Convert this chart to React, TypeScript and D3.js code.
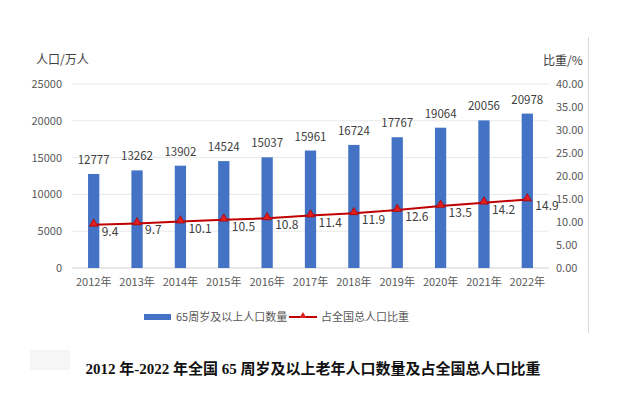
import * as d3 from 'd3';

const years = ['2012', '2013', '2014', '2015', '2016', '2017', '2018', '2019', '2020', '2021', '2022'];
const population = [12777, 13262, 13902, 14524, 15037, 15961, 16724, 17767, 19064, 20056, 20978];
const ratio = [9.4, 9.7, 10.1, 10.5, 10.8, 11.4, 11.9, 12.6, 13.5, 14.2, 14.9];
const leftTicks = [0, 5000, 10000, 15000, 20000, 25000];
const rightTicks = [0, 5, 10, 15, 20, 25, 30, 35, 40];

const width = 621;
const height = 398;
const plot = { left: 72, right: 549, top: 84, bottom: 268 };
const font = '"Noto Sans CJK SC", "Noto Sans", sans-serif';

export default function App() {
  const x = d3.scaleBand(years, [plot.left, plot.right]).paddingInner(0.74).paddingOuter(0.37);
  const yL = d3.scaleLinear([0, 25000], [plot.bottom, plot.top]);
  const yR = d3.scaleLinear([0, 40], [plot.bottom, plot.top]);
  const cx = (i: number) => (x(years[i]) ?? 0) + x.bandwidth() / 2;
  const line = d3.line<number>((_, i) => cx(i), (d) => yR(d));
  const tri = d3.symbol(d3.symbolTriangle, 30)() ?? '';

  return (
    <svg
      width={width}
      height={height}
      style={{ position: 'absolute', left: 0, top: 0, background: '#fff' }}
      fontFamily={font}
    >
      <rect x={30} y={350} width={40} height={20} fill="#f6f6f6" />
      <line x1={588.5} x2={588.5} y1={37} y2={333} stroke="#d9d9d9" />

      <text x={36} y={64} fontSize={12} fill="#404040">人口/万人</text>
      <text x={543} y={65} fontSize={12} fill="#404040">比重/%</text>

      {leftTicks.map((t) => (
        <g key={t}>
          <line x1={plot.left} x2={plot.right} y1={yL(t)} y2={yL(t)} stroke={t === 0 ? '#d0d0d0' : '#e8e8e8'} />
          <text x={62} y={yL(t) + 4} fontSize={11} fill="#595959" textAnchor="end">{t}</text>
        </g>
      ))}
      {rightTicks.map((t) => (
        <text key={t} x={556} y={yR(t) + 4} fontSize={11} fill="#595959">{t.toFixed(2)}</text>
      ))}

      {population.map((v, i) => (
        <g key={years[i]}>
          <rect x={x(years[i])} y={yL(v)} width={x.bandwidth()} height={plot.bottom - yL(v)} fill="#4472c4" />
          <text x={cx(i)} y={yL(v) - 10} fontSize={11.5} fill="#404040" textAnchor="middle">{v}</text>
          <text x={cx(i)} y={286} fontSize={11} fill="#595959" textAnchor="middle">{years[i]}年</text>
        </g>
      ))}

      <path d={line(ratio) ?? ''} fill="none" stroke="#c00000" strokeWidth={2} />
      {ratio.map((v, i) => (
        <g key={years[i]}>
          <path d={tri} transform={`translate(${cx(i)},${yR(v) - 1})`} fill="#e02020" stroke="#b00000" strokeWidth={0.8} />
          <text x={cx(i) + 8} y={yR(v) + 11} fontSize={12} fill="#404040">{v}</text>
        </g>
      ))}

      <rect x={144} y={314} width={27} height={6} fill="#4472c4" />
      <text x={176} y={321} fontSize={11} fill="#595959">65周岁及以上人口数量</text>
      <line x1={289} x2={317} y1={317} y2={317} stroke="#c00000" strokeWidth={2} />
      <path d={d3.symbol(d3.symbolTriangle, 22)() ?? ''} transform="translate(303,316)" fill="#e02020" />
      <text x={321} y={321} fontSize={11} fill="#595959">占全国总人口比重</text>

      <text
        x={313}
        y={374}
        fontSize={15}
        fontWeight="bold"
        fill="#111"
        textAnchor="middle"
        fontFamily={'"Liberation Serif", "Noto Sans CJK SC", serif'}
      >
        2012 年-2022 年全国 65 周岁及以上老年人口数量及占全国总人口比重
      </text>
    </svg>
  );
}
